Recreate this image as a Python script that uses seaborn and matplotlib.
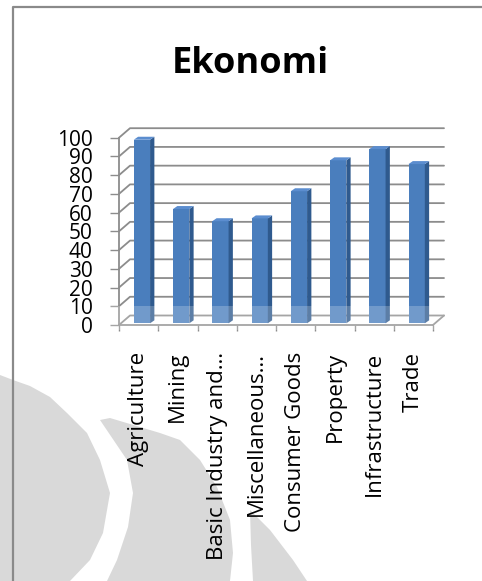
import matplotlib
matplotlib.use("Agg")
import matplotlib.pyplot as plt
import matplotlib.transforms as mtransforms
from matplotlib.patches import Polygon, Rectangle
from matplotlib.lines import Line2D
import numpy as np
import pandas as pd
import seaborn as sns

# ---- data -------------------------------------------------------------
sectors = ["Agriculture", "Mining", "Basic Industry and…", "Miscellaneous…",
           "Consumer Goods", "Property", "Infrastructure", "Trade"]
scores = [98, 61, 54.5, 56, 70.5, 87, 93, 85]
y_ticks = list(range(0, 101, 10))
title = "Ekonomi"

# ---- style ------------------------------------------------------------
sns.set_theme(style="white")
plt.rcParams["font.family"] = ["Open Sans", "DejaVu Sans"]

FRONT = "#4a7ebd"
SIDE = "#2f5a8e"
TOP = "#5b8dcf"
GRID = "#8c8c8c"
WATERMARK = "#d9d9d9"

W, H = 482, 581
fig = plt.figure(figsize=(W / 100, H / 100), dpi=100)
fig.patch.set_facecolor("white")


def fx(x):
    return x / W


def fy(y):
    return 1 - y / H


# faint logo watermark behind the chart
watermark_shapes = [
    [(0, 375), (13, 380), (30, 386), (50, 397), (67, 413), (87, 433), (100, 460),
     (110, 493), (103, 533), (90, 560), (70, 581), (0, 581)],
    [(100, 420), (127, 460), (133, 493), (128, 527), (117, 560), (107, 581),
     (230, 581), (233, 553), (230, 520), (217, 487), (200, 460), (180, 440),
     (160, 433), (130, 424), (110, 418)],
    [(250, 510), (270, 530), (293, 560), (307, 581), (253, 581), (251, 545)],
]
for shape in watermark_shapes:
    fig.patches.append(Polygon([(fx(x), fy(y)) for x, y in shape], closed=True,
                               transform=fig.transFigure, facecolor=WATERMARK,
                               edgecolor="none", zorder=-2))

# outer frame
fig.add_artist(Line2D([fx(13), fx(13), 1], [0, fy(7), fy(7)],
                      transform=fig.transFigure, color="#8a8a8a", lw=1.6,
                      zorder=-1))

# ---- axes (front plane of the pseudo-3D box) ---------------------------
ax = fig.add_axes([fx(119), fy(325), fx(433) - fx(119), fy(137.7) - fy(325)])
ax.set_facecolor("none")
ax.set_zorder(1)

df = pd.DataFrame({"sector": sectors, "score": scores})
sns.barplot(data=df, x="sector", y="score", color=FRONT, saturation=1,
            width=0.415, ax=ax, zorder=3, linewidth=0)

ax.set_xlim(-0.5, 7.5)
ax.set_ylim(0, 100)

# depth of the box (back wall relative to front) and of each column
DEPTH_X, DEPTH_Y = 11 / 39.25, 9.5 / 1.873
COL_X, COL_Y = 4.3 / 39.25, 3.0 / 1.873
bar_shift = mtransforms.ScaledTranslation(3.3 / 100, 1.7 / 100, fig.dpi_scale_trans)

# back wall gridlines with their left-wall diagonals
n = len(sectors)
for v in y_ticks:
    ax.plot([-0.5, -0.5 + DEPTH_X, n - 0.5 + DEPTH_X], [v, v + DEPTH_Y, v + DEPTH_Y],
            color=GRID, lw=1.3, zorder=1, clip_on=False, solid_joinstyle="round")
# right edge of the floor
ax.plot([n - 0.5, n - 0.5 + DEPTH_X], [0, DEPTH_Y], color=GRID, lw=1.3,
        zorder=1, clip_on=False)

# columns: shift the front faces into depth and add side and top faces
for p in list(ax.patches):
    p.set_transform(ax.transData + bar_shift)
    p.set_clip_on(False)
    x0, w, h = p.get_x(), p.get_width(), p.get_height()
    side = Polygon([(x0 + w, 0), (x0 + w, h), (x0 + w + COL_X, h + COL_Y),
                    (x0 + w + COL_X, COL_Y)], closed=True, facecolor=SIDE,
                   edgecolor="none", transform=ax.transData + bar_shift,
                   zorder=3, clip_on=False)
    top = Polygon([(x0, h), (x0 + w, h), (x0 + w + COL_X, h + COL_Y),
                   (x0 + COL_X, h + COL_Y)], closed=True, facecolor=TOP,
                  edgecolor="none", transform=ax.transData + bar_shift,
                  zorder=3, clip_on=False)
    ax.add_patch(side)
    ax.add_patch(top)

# spines = front edges of wall and floor
for s in ["top", "right"]:
    ax.spines[s].set_visible(False)
for s in ["left", "bottom"]:
    ax.spines[s].set_color(GRID)
    ax.spines[s].set_linewidth(1.3)
    ax.spines[s].set_zorder(1)

ax.set_yticks(y_ticks)
ax.set_yticklabels([str(v) for v in y_ticks])
ax.tick_params(axis="y", which="major", direction="out", length=6.5, width=1.0,
               color=GRID, pad=12.5, labelsize=15, labelcolor="black", left=True)

ax.set_xticks(range(n))
ax.set_xticklabels(sectors, rotation=90)
ax.set_xticks(np.arange(-0.5, n, 1), minor=True)
ax.tick_params(axis="x", which="major", length=0, pad=19.4, labelsize=16,
               labelcolor="black")
ax.tick_params(axis="x", which="minor", direction="out", length=4.3, width=1.0,
               color=GRID, bottom=True)
ax.set_xlabel("")
ax.set_ylabel("")
ax.grid(False)

# lighter band along the foot of the columns
fig.patches.append(Rectangle((fx(100), fy(330)), fx(460) - fx(100), fy(306) - fy(330),
                             transform=fig.transFigure, facecolor="white",
                             alpha=0.22, edgecolor="none", zorder=5))

fig.text(fx(250), fy(64), title, ha="center", va="center", fontsize=26,
         fontweight="bold", color="black")

fig.savefig("out.png", dpi=100)
